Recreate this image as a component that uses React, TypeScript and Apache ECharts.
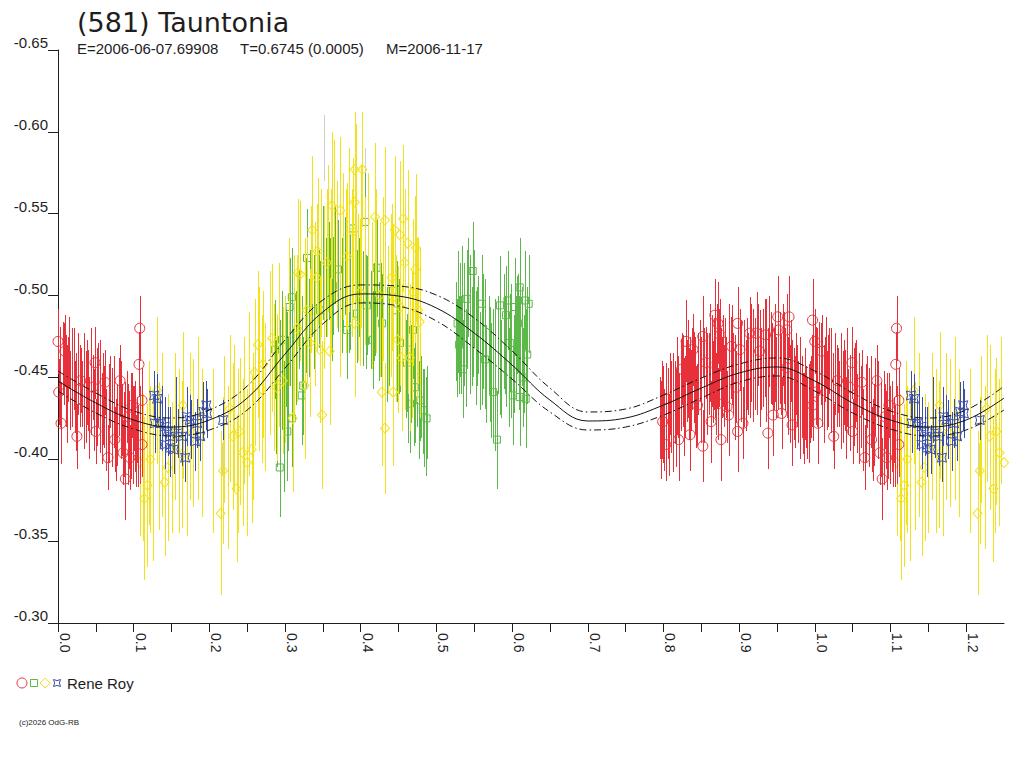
import React, { useEffect, useRef } from "react";
import * as echarts from "echarts";

// [phase, magnitude, error, marker shown (1) or bar only (0)]
type Pt = [number, number, number, number];

const RED: Pt[] = [
  [0.000, -0.472, 0.020, 1], [0.009, -0.466, 0.022, 1], [0.001, -0.441, 0.020, 1], [0.004, -0.422, 0.025, 1],
  [0.030, -0.448, 0.020, 1], [0.025, -0.414, 0.020, 1], [0.049, -0.459, 0.022, 1], [0.046, -0.444, 0.020, 1],
  [0.050, -0.417, 0.020, 1], [0.066, -0.401, 0.020, 1], [0.062, -0.447, 0.020, 1], [0.082, -0.448, 0.022, 1],
  [0.075, -0.412, 0.020, 1], [0.086, -0.404, 0.020, 1], [0.089, -0.388, 0.025, 1], [0.093, -0.426, 0.020, 1],
  [0.098, -0.433, 0.020, 1], [0.095, -0.401, 0.020, 1], [0.108, -0.480, 0.020, 1], [0.107, -0.458, 0.020, 1],
  [0.111, -0.436, 0.020, 1], [0.111, -0.409, 0.020, 1],
  [0.002, -0.456, 0.025, 0], [0.006, -0.462, 0.022, 0], [0.010, -0.448, 0.028, 0], [0.013, -0.455, 0.020, 0],
  [0.016, -0.442, 0.024, 0], [0.019, -0.460, 0.020, 0], [0.022, -0.438, 0.022, 0], [0.027, -0.452, 0.025, 0],
  [0.032, -0.440, 0.020, 0], [0.035, -0.430, 0.024, 0], [0.038, -0.447, 0.026, 0], [0.041, -0.425, 0.025, 0],
  [0.044, -0.435, 0.020, 0], [0.053, -0.445, 0.026, 0], [0.056, -0.428, 0.024, 0], [0.059, -0.437, 0.028, 0],
  [0.064, -0.418, 0.025, 0], [0.069, -0.441, 0.022, 0], [0.072, -0.430, 0.026, 0], [0.078, -0.421, 0.025, 0],
  [0.080, -0.438, 0.024, 0], [0.084, -0.424, 0.022, 0], [0.087, -0.415, 0.026, 0], [0.091, -0.432, 0.022, 0],
  [0.094, -0.418, 0.024, 0], [0.097, -0.410, 0.022, 0], [0.100, -0.425, 0.020, 0], [0.103, -0.405, 0.022, 0],
  [0.105, -0.418, 0.020, 0], [0.109, -0.415, 0.030, 0],
  [0.003, -0.450, 0.030, 0], [0.008, -0.458, 0.025, 0], [0.012, -0.440, 0.030, 0], [0.015, -0.465, 0.022, 0],
  [0.018, -0.448, 0.028, 0], [0.021, -0.455, 0.025, 0], [0.024, -0.435, 0.030, 0], [0.029, -0.445, 0.025, 0],
  [0.034, -0.455, 0.022, 0], [0.037, -0.438, 0.028, 0], [0.040, -0.442, 0.025, 0], [0.043, -0.450, 0.030, 0],
  [0.047, -0.430, 0.025, 0], [0.052, -0.438, 0.030, 0], [0.055, -0.448, 0.025, 0], [0.058, -0.425, 0.028, 0],
  [0.061, -0.432, 0.025, 0], [0.067, -0.428, 0.030, 0], [0.071, -0.420, 0.025, 0], [0.074, -0.435, 0.028, 0],
  [0.077, -0.412, 0.025, 0], [0.083, -0.430, 0.030, 0], [0.088, -0.422, 0.025, 0], [0.092, -0.412, 0.028, 0],
  [0.096, -0.428, 0.025, 0], [0.099, -0.415, 0.030, 0], [0.102, -0.420, 0.028, 0], [0.106, -0.408, 0.025, 0],
  [0.803, -0.437, 0.022, 1], [0.799, -0.423, 0.025, 1], [0.803, -0.409, 0.022, 1], [0.820, -0.412, 0.025, 1],
  [0.824, -0.455, 0.022, 1], [0.830, -0.472, 0.025, 1], [0.839, -0.467, 0.022, 1], [0.835, -0.450, 0.025, 1],
  [0.835, -0.415, 0.022, 1], [0.845, -0.433, 0.025, 1], [0.852, -0.408, 0.022, 1], [0.852, -0.475, 0.025, 1],
  [0.856, -0.459, 0.022, 1], [0.863, -0.423, 0.025, 1], [0.868, -0.488, 0.022, 1], [0.872, -0.483, 0.025, 1],
  [0.875, -0.476, 0.022, 1], [0.871, -0.456, 0.025, 1], [0.872, -0.434, 0.022, 1], [0.876, -0.412, 0.025, 1],
  [0.884, -0.432, 0.022, 1], [0.886, -0.427, 0.025, 1], [0.896, -0.444, 0.022, 1], [0.890, -0.469, 0.025, 1],
  [0.898, -0.483, 0.022, 1], [0.901, -0.467, 0.025, 1], [0.905, -0.422, 0.022, 1], [0.898, -0.417, 0.025, 1],
  [0.914, -0.477, 0.022, 1], [0.923, -0.477, 0.025, 1], [0.935, -0.476, 0.022, 1], [0.927, -0.466, 0.025, 1],
  [0.938, -0.416, 0.022, 1], [0.951, -0.487, 0.025, 1], [0.952, -0.479, 0.022, 1], [0.945, -0.427, 0.025, 1],
  [0.956, -0.428, 0.022, 1], [0.966, -0.487, 0.025, 1], [0.963, -0.479, 0.022, 1], [0.970, -0.421, 0.025, 1],
  [0.963, -0.456, 0.022, 1], [0.997, -0.485, 0.025, 1], [0.997, -0.433, 0.022, 1],
  [0.796, -0.425, 0.025, 0], [0.798, -0.430, 0.030, 0], [0.801, -0.418, 0.025, 0], [0.806, -0.428, 0.028, 0],
  [0.809, -0.440, 0.025, 0], [0.812, -0.422, 0.030, 0], [0.815, -0.435, 0.025, 0], [0.818, -0.445, 0.030, 0],
  [0.821, -0.428, 0.025, 0], [0.826, -0.448, 0.028, 0], [0.829, -0.438, 0.025, 0], [0.832, -0.455, 0.030, 0],
  [0.837, -0.442, 0.025, 0], [0.841, -0.450, 0.028, 0], [0.843, -0.432, 0.025, 0], [0.848, -0.460, 0.025, 0],
  [0.850, -0.445, 0.030, 0], [0.854, -0.438, 0.028, 0], [0.858, -0.452, 0.025, 0], [0.861, -0.465, 0.030, 0],
  [0.865, -0.447, 0.025, 0], [0.867, -0.458, 0.028, 0], [0.870, -0.440, 0.025, 0], [0.874, -0.462, 0.030, 0],
  [0.878, -0.450, 0.025, 0], [0.880, -0.445, 0.025, 0], [0.882, -0.458, 0.028, 0], [0.887, -0.448, 0.030, 0],
  [0.889, -0.462, 0.025, 0], [0.892, -0.452, 0.025, 0], [0.894, -0.440, 0.028, 0], [0.899, -0.455, 0.030, 0],
  [0.903, -0.448, 0.025, 0], [0.907, -0.460, 0.025, 0], [0.909, -0.445, 0.028, 0], [0.912, -0.452, 0.025, 0],
  [0.916, -0.465, 0.030, 0], [0.918, -0.448, 0.025, 0], [0.921, -0.458, 0.028, 0], [0.925, -0.470, 0.025, 0],
  [0.929, -0.455, 0.025, 0], [0.932, -0.462, 0.030, 0], [0.936, -0.448, 0.025, 0], [0.940, -0.472, 0.028, 0],
  [0.943, -0.458, 0.025, 0], [0.947, -0.465, 0.030, 0], [0.949, -0.450, 0.025, 0], [0.954, -0.462, 0.028, 0],
  [0.958, -0.470, 0.025, 0], [0.961, -0.455, 0.025, 0], [0.965, -0.445, 0.030, 0], [0.968, -0.460, 0.025, 0],
  [0.972, -0.440, 0.028, 0], [0.975, -0.452, 0.025, 0], [0.978, -0.435, 0.025, 0], [0.981, -0.445, 0.030, 0],
  [0.984, -0.428, 0.025, 0], [0.987, -0.440, 0.028, 0], [0.990, -0.425, 0.025, 0], [0.993, -0.435, 0.025, 0],
  [0.996, -0.448, 0.028, 0],
  [0.797, -0.418, 0.030, 0], [0.800, -0.432, 0.025, 0], [0.804, -0.425, 0.030, 0], [0.807, -0.415, 0.025, 0],
  [0.810, -0.432, 0.028, 0], [0.813, -0.440, 0.025, 0], [0.816, -0.425, 0.030, 0], [0.819, -0.438, 0.025, 0],
  [0.823, -0.445, 0.028, 0], [0.827, -0.432, 0.030, 0], [0.831, -0.448, 0.025, 0], [0.834, -0.440, 0.028, 0],
  [0.838, -0.455, 0.025, 0], [0.842, -0.445, 0.030, 0], [0.846, -0.452, 0.025, 0], [0.849, -0.438, 0.028, 0],
  [0.853, -0.455, 0.025, 0], [0.857, -0.445, 0.030, 0], [0.860, -0.452, 0.025, 0], [0.864, -0.460, 0.028, 0],
  [0.868, -0.450, 0.025, 0], [0.871, -0.465, 0.030, 0], [0.876, -0.455, 0.025, 0], [0.879, -0.460, 0.028, 0],
  [0.883, -0.450, 0.025, 0], [0.886, -0.465, 0.030, 0], [0.891, -0.458, 0.025, 0], [0.895, -0.448, 0.028, 0],
  [0.898, -0.462, 0.025, 0], [0.902, -0.455, 0.030, 0], [0.906, -0.445, 0.025, 0], [0.910, -0.458, 0.028, 0],
  [0.914, -0.450, 0.025, 0], [0.919, -0.462, 0.030, 0], [0.923, -0.452, 0.025, 0], [0.927, -0.448, 0.028, 0],
  [0.931, -0.458, 0.025, 0], [0.934, -0.468, 0.030, 0], [0.938, -0.455, 0.025, 0], [0.942, -0.462, 0.028, 0],
  [0.946, -0.455, 0.025, 0], [0.951, -0.460, 0.030, 0], [0.955, -0.452, 0.025, 0], [0.959, -0.462, 0.028, 0],
  [0.963, -0.450, 0.025, 0], [0.967, -0.440, 0.030, 0], [0.970, -0.448, 0.025, 0], [0.974, -0.435, 0.028, 0],
  [0.977, -0.445, 0.025, 0], [0.980, -0.430, 0.030, 0], [0.983, -0.438, 0.025, 0], [0.986, -0.425, 0.028, 0],
  [0.989, -0.432, 0.025, 0], [0.992, -0.428, 0.030, 0], [0.995, -0.438, 0.025, 0], [0.998, -0.445, 0.028, 0],
];

const GREEN: Pt[] = [
  [0.306, -0.493, 0.030, 1], [0.309, -0.499, 0.030, 1], [0.329, -0.523, 0.030, 1], [0.322, -0.439, 0.030, 1],
  [0.324, -0.445, 0.030, 1], [0.303, -0.417, 0.030, 1], [0.293, -0.395, 0.030, 1], [0.309, -0.425, 0.030, 1],
  [0.287, -0.467, 0.030, 1], [0.296, -0.473, 0.030, 1], [0.346, -0.491, 0.030, 1], [0.363, -0.506, 0.030, 1],
  [0.370, -0.516, 0.030, 1], [0.390, -0.541, 0.030, 1], [0.406, -0.545, 0.030, 1], [0.382, -0.479, 0.030, 1],
  [0.395, -0.489, 0.030, 1], [0.408, -0.494, 0.030, 1], [0.428, -0.483, 0.030, 1], [0.416, -0.473, 0.030, 1],
  [0.421, -0.517, 0.030, 1], [0.443, -0.503, 0.030, 1], [0.448, -0.491, 0.030, 1], [0.452, -0.471, 0.030, 1],
  [0.461, -0.459, 0.030, 1], [0.465, -0.434, 0.030, 1], [0.478, -0.436, 0.025, 1], [0.482, -0.430, 0.025, 1],
  [0.487, -0.425, 0.025, 1], [0.472, -0.444, 0.030, 1], [0.465, -0.467, 0.030, 1], [0.469, -0.479, 0.030, 1],
  [0.548, -0.515, 0.030, 1], [0.540, -0.498, 0.030, 1], [0.528, -0.483, 0.030, 1], [0.530, -0.470, 0.030, 1],
  [0.535, -0.455, 0.030, 1], [0.560, -0.495, 0.030, 1], [0.564, -0.461, 0.030, 1], [0.575, -0.441, 0.030, 1],
  [0.580, -0.412, 0.030, 1], [0.584, -0.494, 0.030, 1], [0.592, -0.488, 0.030, 1], [0.594, -0.497, 0.030, 1],
  [0.597, -0.471, 0.030, 1], [0.604, -0.493, 0.030, 1], [0.608, -0.483, 0.030, 1], [0.610, -0.505, 0.030, 1],
  [0.617, -0.497, 0.030, 1], [0.622, -0.495, 0.030, 1], [0.620, -0.464, 0.030, 1], [0.614, -0.450, 0.030, 1],
  [0.610, -0.438, 0.030, 1], [0.601, -0.439, 0.030, 1], [0.618, -0.437, 0.030, 1],
  [0.285, -0.445, 0.030, 0], [0.290, -0.430, 0.035, 0], [0.294, -0.455, 0.030, 0], [0.298, -0.420, 0.040, 0],
  [0.301, -0.462, 0.030, 0], [0.304, -0.440, 0.035, 0], [0.307, -0.475, 0.030, 0], [0.311, -0.450, 0.030, 0],
  [0.314, -0.468, 0.035, 0], [0.318, -0.485, 0.030, 0], [0.322, -0.470, 0.030, 0], [0.326, -0.495, 0.035, 0],
  [0.331, -0.480, 0.030, 0], [0.335, -0.505, 0.030, 0], [0.338, -0.490, 0.035, 0], [0.342, -0.512, 0.030, 0],
  [0.345, -0.498, 0.030, 0], [0.350, -0.520, 0.035, 0], [0.354, -0.505, 0.030, 0], [0.358, -0.515, 0.030, 0],
  [0.362, -0.495, 0.035, 0], [0.366, -0.525, 0.030, 0], [0.370, -0.508, 0.030, 0], [0.375, -0.500, 0.035, 0],
  [0.379, -0.518, 0.030, 0], [0.384, -0.495, 0.030, 0], [0.388, -0.510, 0.035, 0], [0.393, -0.488, 0.030, 0],
  [0.398, -0.505, 0.030, 0], [0.403, -0.492, 0.035, 0], [0.410, -0.500, 0.030, 0], [0.414, -0.485, 0.030, 0],
  [0.419, -0.498, 0.035, 0], [0.424, -0.478, 0.030, 0], [0.430, -0.490, 0.030, 0], [0.435, -0.470, 0.035, 0],
  [0.440, -0.482, 0.030, 0], [0.446, -0.465, 0.030, 0], [0.450, -0.475, 0.035, 0], [0.455, -0.455, 0.030, 0],
  [0.458, -0.462, 0.030, 0], [0.463, -0.445, 0.035, 0], [0.467, -0.452, 0.030, 0], [0.470, -0.438, 0.030, 0],
  [0.474, -0.445, 0.025, 0], [0.477, -0.430, 0.030, 0], [0.480, -0.438, 0.025, 0], [0.484, -0.425, 0.030, 0],
  [0.488, -0.432, 0.025, 0],
  [0.288, -0.438, 0.035, 0], [0.296, -0.448, 0.030, 0], [0.303, -0.455, 0.035, 0], [0.309, -0.462, 0.030, 0],
  [0.316, -0.478, 0.035, 0], [0.320, -0.490, 0.030, 0], [0.328, -0.488, 0.035, 0], [0.333, -0.498, 0.030, 0],
  [0.340, -0.505, 0.035, 0], [0.347, -0.510, 0.030, 0], [0.352, -0.498, 0.035, 0], [0.360, -0.505, 0.030, 0],
  [0.368, -0.515, 0.035, 0], [0.377, -0.510, 0.030, 0], [0.386, -0.502, 0.035, 0], [0.395, -0.498, 0.030, 0],
  [0.407, -0.490, 0.035, 0], [0.417, -0.490, 0.030, 0], [0.427, -0.485, 0.035, 0], [0.438, -0.475, 0.030, 0],
  [0.448, -0.470, 0.035, 0], [0.460, -0.455, 0.030, 0], [0.472, -0.440, 0.030, 0], [0.482, -0.428, 0.025, 0],
  [0.486, -0.420, 0.030, 0],
  [0.526, -0.478, 0.030, 0], [0.529, -0.492, 0.035, 0], [0.532, -0.470, 0.030, 0], [0.534, -0.500, 0.030, 0],
  [0.537, -0.485, 0.035, 0], [0.539, -0.462, 0.030, 0], [0.542, -0.505, 0.030, 0], [0.545, -0.490, 0.035, 0],
  [0.547, -0.475, 0.030, 0], [0.550, -0.498, 0.030, 0], [0.552, -0.468, 0.035, 0], [0.555, -0.482, 0.030, 0],
  [0.558, -0.460, 0.030, 0], [0.562, -0.478, 0.035, 0], [0.566, -0.452, 0.030, 0], [0.569, -0.470, 0.030, 0],
  [0.572, -0.448, 0.035, 0], [0.575, -0.462, 0.030, 0], [0.578, -0.440, 0.035, 0], [0.582, -0.470, 0.030, 0],
  [0.586, -0.455, 0.030, 0], [0.589, -0.478, 0.035, 0], [0.592, -0.462, 0.030, 0], [0.596, -0.450, 0.030, 0],
  [0.599, -0.472, 0.035, 0], [0.603, -0.458, 0.030, 0], [0.606, -0.482, 0.030, 0], [0.609, -0.465, 0.035, 0],
  [0.613, -0.475, 0.030, 0], [0.616, -0.458, 0.030, 0], [0.620, -0.470, 0.035, 0],
  [0.527, -0.468, 0.030, 0], [0.531, -0.485, 0.035, 0], [0.536, -0.475, 0.030, 0], [0.541, -0.490, 0.035, 0],
  [0.544, -0.470, 0.030, 0], [0.549, -0.485, 0.035, 0], [0.554, -0.475, 0.030, 0], [0.560, -0.468, 0.035, 0],
  [0.564, -0.480, 0.030, 0], [0.571, -0.458, 0.035, 0], [0.577, -0.468, 0.030, 0], [0.584, -0.462, 0.035, 0],
  [0.591, -0.470, 0.030, 0], [0.598, -0.460, 0.035, 0], [0.605, -0.470, 0.030, 0], [0.611, -0.478, 0.035, 0],
  [0.618, -0.462, 0.030, 0],
];

const YELLOW: Pt[] = [
  [0.131, -0.442, 0.045, 1], [0.165, -0.433, 0.045, 1], [0.118, -0.384, 0.050, 1], [0.108, -0.398, 0.045, 1],
  [0.122, -0.400, 0.045, 1], [0.114, -0.376, 0.050, 1], [0.141, -0.386, 0.045, 1], [0.145, -0.395, 0.045, 1],
  [0.164, -0.403, 0.045, 1], [0.174, -0.420, 0.045, 1], [0.178, -0.416, 0.045, 1], [0.218, -0.393, 0.045, 1],
  [0.215, -0.367, 0.050, 1], [0.236, -0.382, 0.045, 1], [0.231, -0.414, 0.045, 1], [0.240, -0.417, 0.045, 1],
  [0.244, -0.404, 0.045, 1], [0.250, -0.398, 0.045, 1], [0.227, -0.431, 0.045, 1],
  [0.264, -0.470, 0.045, 1], [0.283, -0.474, 0.045, 1], [0.260, -0.453, 0.045, 1], [0.271, -0.458, 0.045, 1],
  [0.269, -0.443, 0.045, 1], [0.256, -0.406, 0.045, 1], [0.320, -0.513, 0.045, 1], [0.336, -0.540, 0.045, 1],
  [0.343, -0.527, 0.045, 1], [0.362, -0.555, 0.045, 1], [0.392, -0.577, 0.035, 1], [0.402, -0.577, 0.035, 1],
  [0.392, -0.557, 0.045, 1], [0.432, -0.546, 0.045, 1], [0.419, -0.548, 0.045, 1], [0.456, -0.547, 0.045, 1],
  [0.445, -0.540, 0.045, 1], [0.452, -0.537, 0.045, 1], [0.462, -0.532, 0.045, 1], [0.473, -0.529, 0.045, 1],
  [0.472, -0.516, 0.045, 1], [0.458, -0.520, 0.045, 1], [0.443, -0.499, 0.045, 1], [0.452, -0.493, 0.045, 1],
  [0.441, -0.511, 0.045, 1], [0.425, -0.500, 0.045, 1], [0.399, -0.502, 0.045, 1], [0.392, -0.483, 0.045, 1],
  [0.373, -0.552, 0.045, 1], [0.390, -0.539, 0.045, 1], [0.382, -0.524, 0.045, 1], [0.355, -0.520, 0.045, 1],
  [0.342, -0.511, 0.045, 1], [0.329, -0.491, 0.045, 1], [0.316, -0.480, 0.045, 1], [0.333, -0.471, 0.045, 1],
  [0.346, -0.467, 0.045, 1], [0.359, -0.466, 0.045, 1], [0.326, -0.445, 0.045, 1], [0.310, -0.425, 0.045, 1],
  [0.349, -0.427, 0.045, 1], [0.317, -0.514, 0.045, 1], [0.297, -0.448, 0.045, 1], [0.289, -0.444, 0.045, 1],
  [0.428, -0.441, 0.045, 1], [0.443, -0.441, 0.045, 1], [0.432, -0.419, 0.040, 1], [0.465, -0.462, 0.045, 1],
  [0.478, -0.484, 0.045, 1], [0.476, -0.491, 0.045, 1], [0.469, -0.502, 0.045, 1], [0.449, -0.473, 0.045, 1],
  [0.454, -0.462, 0.045, 1],
  [0.112, -0.395, 0.045, 0], [0.120, -0.410, 0.050, 0], [0.126, -0.388, 0.050, 0], [0.133, -0.402, 0.045, 0],
  [0.138, -0.415, 0.050, 0], [0.150, -0.395, 0.040, 0], [0.155, -0.420, 0.045, 0], [0.160, -0.405, 0.050, 0],
  [0.170, -0.398, 0.045, 0], [0.185, -0.425, 0.050, 0], [0.190, -0.410, 0.045, 0], [0.205, -0.405, 0.050, 0],
  [0.220, -0.418, 0.045, 0], [0.225, -0.395, 0.050, 0], [0.232, -0.425, 0.045, 0], [0.238, -0.405, 0.050, 0],
  [0.246, -0.430, 0.045, 0], [0.253, -0.440, 0.050, 0], [0.258, -0.420, 0.045, 0], [0.266, -0.455, 0.050, 0],
  [0.274, -0.438, 0.045, 0], [0.280, -0.465, 0.050, 0], [0.286, -0.450, 0.045, 0], [0.292, -0.470, 0.050, 0],
  [0.300, -0.455, 0.045, 0], [0.305, -0.490, 0.045, 0], [0.312, -0.475, 0.050, 0], [0.320, -0.500, 0.040, 0],
  [0.327, -0.485, 0.050, 0], [0.334, -0.510, 0.045, 0], [0.340, -0.495, 0.050, 0], [0.347, -0.520, 0.045, 0],
  [0.352, -0.505, 0.050, 0], [0.357, -0.535, 0.045, 0], [0.361, -0.515, 0.050, 0], [0.365, -0.545, 0.050, 0],
  [0.368, -0.525, 0.045, 0], [0.372, -0.500, 0.050, 0], [0.376, -0.530, 0.045, 0], [0.380, -0.515, 0.050, 0],
  [0.385, -0.540, 0.050, 0], [0.388, -0.520, 0.045, 0], [0.394, -0.550, 0.055, 0], [0.397, -0.505, 0.045, 0],
  [0.401, -0.530, 0.050, 0], [0.405, -0.515, 0.045, 0], [0.410, -0.525, 0.050, 0], [0.415, -0.500, 0.045, 0],
  [0.420, -0.515, 0.050, 0], [0.426, -0.495, 0.045, 0], [0.430, -0.510, 0.050, 0], [0.436, -0.485, 0.045, 0],
  [0.440, -0.500, 0.050, 0], [0.447, -0.480, 0.045, 0], [0.452, -0.495, 0.050, 0], [0.458, -0.475, 0.045, 0],
  [0.463, -0.490, 0.050, 0], [0.468, -0.470, 0.045, 0], [0.474, -0.485, 0.050, 0], [0.478, -0.465, 0.040, 0],
];

const BLUE: Pt[] = [
  [0.127, -0.439, 0.015, 1], [0.131, -0.437, 0.015, 1], [0.128, -0.422, 0.018, 1], [0.135, -0.422, 0.015, 1],
  [0.141, -0.420, 0.018, 1], [0.145, -0.417, 0.015, 1], [0.148, -0.414, 0.018, 1], [0.159, -0.416, 0.015, 1],
  [0.164, -0.414, 0.018, 1], [0.141, -0.409, 0.015, 1], [0.148, -0.407, 0.018, 1], [0.153, -0.406, 0.015, 1],
  [0.168, -0.401, 0.015, 1], [0.170, -0.426, 0.018, 1], [0.174, -0.424, 0.015, 1], [0.184, -0.422, 0.015, 1],
  [0.181, -0.411, 0.018, 1], [0.188, -0.414, 0.015, 1], [0.192, -0.429, 0.018, 1], [0.196, -0.433, 0.015, 1],
  [0.197, -0.428, 0.015, 1], [0.218, -0.424, 0.012, 1],
  [0.138, -0.425, 0.020, 0], [0.156, -0.430, 0.020, 0], [0.176, -0.418, 0.018, 0],
];

const GRAY: Pt[] = [
  [0.217, -0.400, 0.010, 0], [0.352, -0.590, 0.020, 0], [0.405, -0.570, 0.020, 0],
  [0.297, -0.440, 0.015, 0], [0.605, -0.480, 0.015, 0], [0.236, -0.378, 0.010, 0],
];

// Fitted light curve and its +/- envelope, read at each 0.05 in phase
const FIT_PHASE = [0, 0.05, 0.1, 0.15, 0.2, 0.25, 0.3, 0.35, 0.4, 0.45, 0.5, 0.55, 0.6, 0.65, 0.7, 0.75, 0.8, 0.85, 0.9, 0.95, 1.0];
const FIT_MID = [-0.4478, -0.4344, -0.4240, -0.4197, -0.4240, -0.4374, -0.4643, -0.4900, -0.5010, -0.4997, -0.4924, -0.4771, -0.4576, -0.4362, -0.4234, -0.4252, -0.4331, -0.4435, -0.4527, -0.4564, -0.4478];
const FIT_UP = [-0.4539, -0.4405, -0.4295, -0.4252, -0.4301, -0.4447, -0.4729, -0.4973, -0.5065, -0.5058, -0.5003, -0.4863, -0.4662, -0.4435, -0.4289, -0.4307, -0.4392, -0.4496, -0.4582, -0.4619, -0.4539];
const FIT_LOW = [-0.4417, -0.4283, -0.4185, -0.4142, -0.4179, -0.4301, -0.4557, -0.4827, -0.4955, -0.4936, -0.4845, -0.4679, -0.4490, -0.4289, -0.4179, -0.4197, -0.4270, -0.4374, -0.4472, -0.4509, -0.4417];

const X_MIN = 0;
const X_MAX = 1.25;
const Y_MIN = -0.65;
const Y_MAX = -0.3;

const C_RED = "#e8303a";
const C_GREEN = "#5cb848";
const C_YELLOW = "#f2e21a";
const C_BLUE = "#3a4ea8";
const C_GRAY = "#cfcfcf";
const C_TEXT = "#1e1e1e";
const FONT = "'Liberation Sans', Arial, sans-serif";

const STAR_SYMBOL = "path://M0,0 Q5,3 10,0 Q7,5 10,10 Q5,7 0,10 Q3,5 0,0 Z";
const STAR_D = "M0,0 Q3.5,2.2 7,0 Q4.8,3.5 7,7 Q3.5,4.8 0,7 Q2.2,3.5 0,0 Z";

// Phase-folded plot: points with phase < 0.25 are repeated one cycle later.
function wrap(pts: Pt[]): Pt[] {
  const out = pts.slice();
  pts.forEach((p) => {
    if (p[0] + 1 <= X_MAX) out.push([p[0] + 1, p[1], p[2], p[3]]);
  });
  return out;
}

function curve(vals: number[]): number[][] {
  const out = FIT_PHASE.map((p, i) => [p, vals[i]]);
  FIT_PHASE.forEach((p, i) => {
    if (p > 0 && p + 1 <= X_MAX + 1e-9) out.push([p + 1, vals[i]]);
  });
  return out;
}

function barSeries(pts: Pt[], color: string, z: number) {
  return {
    type: "custom",
    silent: true,
    z,
    clip: true,
    data: pts.map((p) => [p[0], p[1], p[2]]),
    encode: { x: 0, y: 1 },
    renderItem: (_params: any, api: any) => {
      const x = api.value(0);
      const y = api.value(1);
      const e = api.value(2);
      const a = api.coord([x, y - e]);
      const b = api.coord([x, y + e]);
      const px = Math.round(a[0]) + 0.5;
      return {
        type: "line",
        shape: { x1: px, y1: Math.round(a[1]), x2: px, y2: Math.round(b[1]) },
        style: { stroke: color, lineWidth: 1 },
      };
    },
  };
}

function markSeries(pts: Pt[], color: string, symbol: string, size: number | number[], z: number) {
  return {
    type: "scatter",
    silent: true,
    z,
    symbol,
    symbolSize: size,
    data: pts.filter((p) => p[3] === 1).map((p) => [p[0], p[1]]),
    itemStyle: { color: "rgba(0,0,0,0)", borderColor: color, borderWidth: 1, opacity: 1 },
  };
}

function fitSeries(vals: number[], dashed: boolean) {
  return {
    type: "line",
    silent: true,
    z: 20,
    smooth: 0.4,
    showSymbol: false,
    data: curve(vals),
    lineStyle: { color: "#111", width: 1, type: dashed ? [7, 3, 1.5, 3] : "solid" },
  };
}

export default function App() {
  const ref = useRef<HTMLDivElement>(null);
  useEffect(() => {
    if (!ref.current) return;
    echarts.graphic.registerShape("bluestar", echarts.graphic.extendPath(STAR_D, {}) as any);
    const chart = echarts.init(ref.current, null, { renderer: "svg" });
    const red = wrap(RED);
    const green = wrap(GREEN);
    const yellow = wrap(YELLOW);
    const blue = wrap(BLUE);
    const gray = wrap(GRAY);
    chart.setOption({
      animation: false,
      backgroundColor: "#ffffff",
      grid: { left: 58, top: 50, right: 20, bottom: 145, containLabel: false },
      xAxis: {
        type: "value",
        min: X_MIN,
        max: X_MAX,
        interval: 0.05,
        axisLine: { show: true, onZero: false, lineStyle: { color: C_TEXT, width: 1 } },
        axisTick: { show: true, length: 9, lineStyle: { color: C_TEXT } },
        splitLine: { show: false },
        axisLabel: {
          rotate: -90,
          margin: 10,
          align: "left",
          verticalAlign: "bottom",
          color: C_TEXT,
          fontFamily: FONT,
          fontSize: 14,
          showMaxLabel: false,
          formatter: (v: number) => {
            const k = Math.round(v * 100);
            return k % 10 === 0 ? (k / 100).toFixed(1) : "";
          },
        },
      },
      yAxis: {
        type: "value",
        inverse: true,
        min: Y_MIN,
        max: Y_MAX,
        interval: 0.05,
        axisLine: { show: true, onZero: false, lineStyle: { color: C_TEXT, width: 1 } },
        axisTick: { show: true, length: 10, lineStyle: { color: C_TEXT } },
        splitLine: { show: false },
        axisLabel: {
          margin: 10,
          verticalAlign: "bottom",
          color: C_TEXT,
          fontFamily: FONT,
          fontSize: 15,
          formatter: (v: number) => v.toFixed(2),
        },
      },
      series: [
        barSeries(gray, C_GRAY, 2),
        barSeries(green, C_GREEN, 3),
        markSeries(green, C_GREEN, "rect", 7, 4),
        barSeries(yellow, C_YELLOW, 5),
        markSeries(yellow, C_YELLOW, "diamond", [9, 10], 6),
        barSeries(red, C_RED, 7),
        markSeries(red, C_RED, "circle", 10, 8),
        barSeries(blue, C_BLUE, 9),
        markSeries(blue, C_BLUE, STAR_SYMBOL, 9, 10),
        fitSeries(FIT_MID, false),
        fitSeries(FIT_UP, true),
        fitSeries(FIT_LOW, true),
      ],
      graphic: [
        {
          type: "text",
          x: 77,
          y: 22,
          style: { text: "(581) Tauntonia", fill: C_TEXT, font: "27px 'DejaVu Sans', sans-serif", textVerticalAlign: "middle" },
        },
        {
          type: "text",
          x: 77,
          y: 48.5,
          style: { text: "E=2006-06-07.69908", fill: C_TEXT, font: `15px ${FONT}`, textVerticalAlign: "middle" },
        },
        {
          type: "text",
          x: 240,
          y: 48.5,
          style: { text: "T=0.6745 (0.0005)", fill: C_TEXT, font: `15px ${FONT}`, textVerticalAlign: "middle" },
        },
        {
          type: "text",
          x: 386,
          y: 48.5,
          style: { text: "M=2006-11-17", fill: C_TEXT, font: `15px ${FONT}`, textVerticalAlign: "middle" },
        },
        { type: "circle", shape: { cx: 22, cy: 683, r: 5 }, style: { fill: "none", stroke: C_RED, lineWidth: 1 } },
        { type: "rect", shape: { x: 30.5, y: 679.5, width: 7, height: 7 }, style: { fill: "none", stroke: C_GREEN, lineWidth: 1 } },
        {
          type: "polygon",
          shape: { points: [[45, 678], [50, 683], [45, 688], [40, 683]] },
          style: { fill: "none", stroke: C_YELLOW, lineWidth: 1 },
        },
        { type: "bluestar", x: 53.5, y: 679.5, style: { fill: "none", stroke: C_BLUE, lineWidth: 1 } },
        {
          type: "text",
          x: 67,
          y: 683,
          style: { text: "Rene Roy", fill: C_TEXT, font: `15px ${FONT}`, textVerticalAlign: "middle" },
        },
        {
          type: "text",
          x: 19,
          y: 722,
          style: { text: "(c)2026 OdG-RB", fill: C_TEXT, font: `8px ${FONT}`, textVerticalAlign: "middle" },
        },
      ],
    });
    return () => chart.dispose();
  }, []);
  return (
    <div
      ref={ref}
      style={{ position: "fixed", left: 0, top: 0, width: 1024, height: 768, background: "#fff" }}
    />
  );
}
